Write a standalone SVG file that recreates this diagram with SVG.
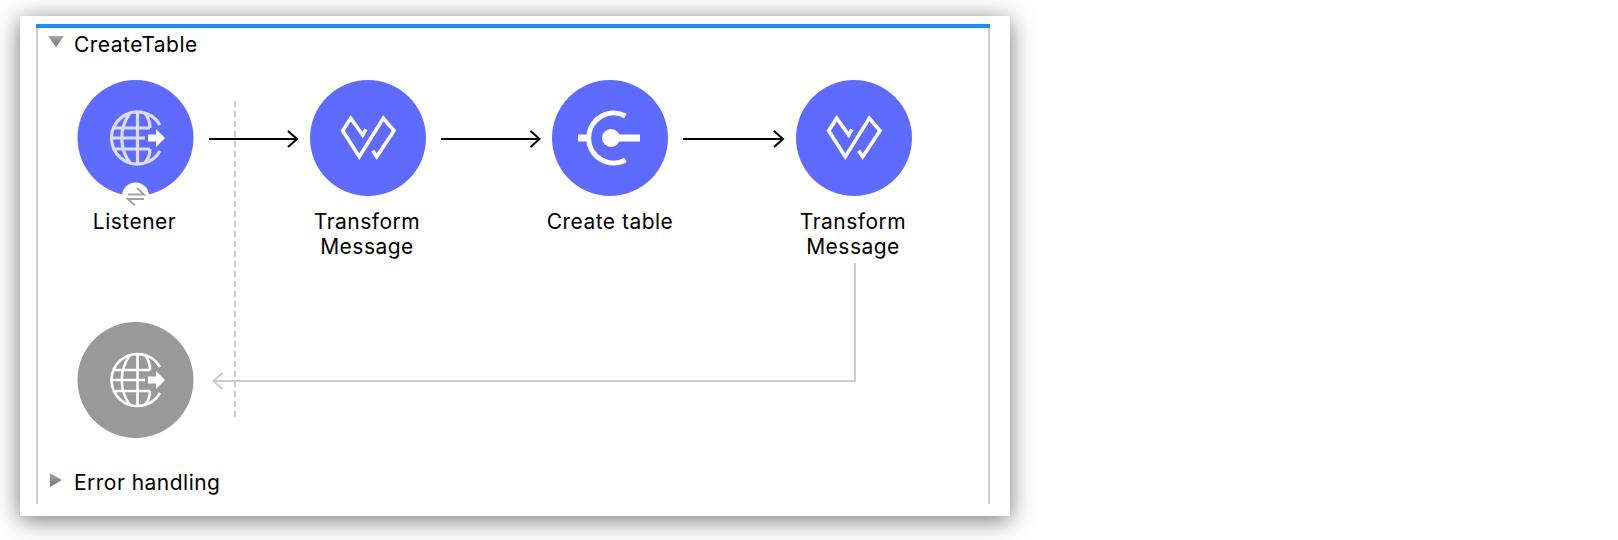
<svg xmlns="http://www.w3.org/2000/svg" width="1618" height="540" viewBox="0 0 1618 540">
<style>
.lbl{font-family:Inter,"Liberation Sans",sans-serif;font-size:21px;letter-spacing:.48px;fill:#000}
.mid{text-anchor:middle}
.blue{fill:#5f6bff}
.ico{fill:none;stroke:#fff;stroke-width:3.600}
.globe{fill:none;stroke:#dadcfa;stroke-width:3.200}
.globeg{fill:none;stroke:#fff;stroke-width:2.600}
.conn{fill:none;stroke:#000;stroke-width:2}
.back{fill:none;stroke:#ccc;stroke-width:2}
</style>
<defs>
<filter id="sh" x="-10%" y="-20%" width="120%" height="140%"><feDropShadow dx="0" dy="4" stdDeviation="12" flood-color="#000" flood-opacity="0.55"/></filter>
<g id="globe">
<path d="M160 125A26 26 0 1 0 160 151M137.500 112V164M112 138H145M114.500 128H150M114.500 149H150M130 113C119 128 119 148 130 163M145 113.500C149 118 150 123 150 128M150 149C150 154 149 158 145 162.500"/>
</g>
<g id="wave"><path class="ico" d="M366 129.300L362.700 135L350.700 118.300L342.700 130.700L359.300 156.700L383.300 118.300L394 130.700L376.700 156.700L372.700 150.700"/></g>
<marker id="ab" markerWidth="14" markerHeight="20" refX="11" refY="9" orient="auto" markerUnits="userSpaceOnUse"><path d="M2 1L11 9L2 17" fill="none" stroke="#000" stroke-width="2"/></marker>
<marker id="ag" markerWidth="14" markerHeight="20" refX="11" refY="9" orient="auto" markerUnits="userSpaceOnUse"><path d="M2 1L11 9L2 17" fill="none" stroke="#ccc" stroke-width="2"/></marker>
<linearGradient id="tri" x1="0" y1="0" x2="0" y2="1"><stop offset="0" stop-color="#a8a8a8"/><stop offset="1" stop-color="#707070"/></linearGradient>
</defs>
<rect x="20" y="16" width="990" height="500" fill="#fff" filter="url(#sh)"/>
<g id="frame">
<rect x="36" y="24" width="954" height="4" fill="#1a8fed"/>
<rect x="36" y="28" width="2" height="476" fill="#ccc"/>
<rect x="988" y="28" width="2" height="476" fill="#ccc"/>
<path d="M48 36H64L56 47Z" fill="url(#tri)"/>
<path d="M50 473L62 480L50 487Z" fill="url(#tri)"/>
<text class="lbl" x="74" y="52">CreateTable</text>
<text class="lbl" x="74" y="490">Error handling</text>
<path d="M235 101V417" fill="none" stroke="#ccc" stroke-width="2" stroke-dasharray="6 4"/>
</g>
<g id="connectors">
<path class="conn" marker-end="url(#ab)" d="M209 139H297"/>
<path class="conn" marker-end="url(#ab)" d="M441 139H539.500"/>
<path class="conn" marker-end="url(#ab)" d="M683 139H783"/>
<path class="back" marker-end="url(#ag)" d="M855 263V381H213.500"/>
</g>
<g id="listener">
<circle class="blue" cx="135.500" cy="138" r="58"/>
<use href="#globe" class="globe"/>
<path d="M148 134.500H156V129L165 138L156 147V141.500H148Z" fill="#fff"/>
<circle cx="135.500" cy="196" r="13.500" fill="#fff"/>
<path d="M128 194.500H144L137 188M144 199H128L135 205.500" fill="none" stroke="#a3a3a3" stroke-width="2"/>
<text class="lbl mid" x="134.500" y="228.500">Listener</text>
</g>
<g id="transform1">
<circle class="blue" cx="368" cy="138" r="58"/>
<use href="#wave"/>
<text class="lbl mid" x="367" y="228.500">Transform</text>
<text class="lbl mid" x="367" y="253.500">Message</text>
</g>
<g id="create">
<circle class="blue" cx="610" cy="138" r="58"/>
<path d="M625.500 116A25 25 0 1 0 625.500 160" fill="none" stroke="#fff" stroke-width="5"/>
<rect x="578" y="134.500" width="12" height="7" fill="#fff"/>
<circle cx="611" cy="138" r="9" fill="#fff"/>
<rect x="611" y="134.500" width="29" height="7" fill="#fff"/>
<text class="lbl mid" x="610" y="228.500">Create table</text>
</g>
<g id="transform2">
<circle class="blue" cx="854" cy="138" r="58"/>
<use href="#wave" x="486"/>
<text class="lbl mid" x="853" y="228.500">Transform</text>
<text class="lbl mid" x="853" y="253.500">Message</text>
</g>
<g id="response">
<circle cx="135.500" cy="380" r="58" fill="#999"/>
<use href="#globe" y="242" class="globeg"/>
<path d="M148 376.500H156V371L165 380L156 389V383.500H148Z" fill="#fff"/>
</g>
</svg>
